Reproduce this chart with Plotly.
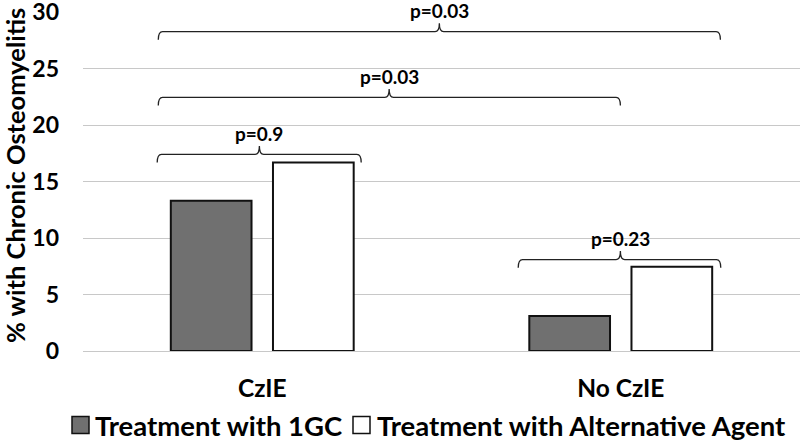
import plotly.graph_objects as go

categories = ["CzIE", "No CzIE"]
series_names = ["Treatment with 1GC", "Treatment with Alternative Agent"]
series_colors = ["#707070", "#ffffff"]
values_1gc = [13.3, 3.1]
values_alt = [16.7, 7.45]

# significance brackets (x in category index units, y in % units)
br_left = [-0.29, -0.29, -0.293, 0.714]
br_right = [1.278, 0.999, 0.276, 1.279]
br_mid = [0.494, 0.354, -0.008, 0.999]
br_level = [28.28, 22.46, 17.41, 8.10]
br_labels = ["p=0.03", "p=0.03", "p=0.9", "p=0.23"]

y_ticks = [0, 5, 10, 15, 20, 25, 30]
y_title = "% with Chronic Osteomyelitis"

FONT = "Lato"
W, H = 800, 441
ML, MR, MT, MB = 83, 0, 12, 90
x_pos = list(range(len(categories)))

fig = go.Figure()
for vals, name, col in zip([values_1gc, values_alt], series_names, series_colors):
    fig.add_trace(go.Bar(x=x_pos, y=vals, name=name, showlegend=False,
                         marker=dict(color=col, line=dict(color="#111111", width=2))))

tip = 0.72
tick = 0.75
dx = 0.012
for l, r, m, yv, lab in zip(br_left, br_right, br_mid, br_level, br_labels):
    p = (f"M {l},{yv - tip} Q {l},{yv} {l + dx},{yv} "
         f"L {m - dx},{yv} Q {m},{yv} {m},{yv + tick} "
         f"Q {m},{yv} {m + dx},{yv} "
         f"L {r - dx},{yv} Q {r},{yv} {r},{yv - tip}")
    fig.add_shape(type="path", path=p, xref="x", yref="y",
                  line=dict(color="#222222", width=1.3))
    fig.add_annotation(x=m, y=yv + tick, xref="x", yref="y", text=f"<b>{lab}</b>",
                       showarrow=False, yanchor="bottom", yshift=-1,
                       font=dict(family=FONT, size=19, color="#000000"))

# pixel layout -> paper coords
pw = W - ML - MR
ph = H - MT - MB
def px_x(px):
    return (px - ML) / pw
def px_y(py):
    return (H - MB - py) / ph

# y-axis title
fig.add_annotation(xref="paper", yref="paper", x=px_x(15), y=px_y(176),
                   xanchor="center", yanchor="middle", showarrow=False, textangle=-90,
                   text=f"<b>{y_title}</b>",
                   font=dict(family=FONT, size=25.5, color="#000000"))

# manual legend
leg_sq_x = [72, 353]
leg_txt_x = [93, 375]
leg_cy = 425
sq = 17
for sx, tx, name, col in zip(leg_sq_x, leg_txt_x, series_names, series_colors):
    fig.add_shape(type="rect", xref="paper", yref="paper",
                  x0=px_x(sx), x1=px_x(sx + sq), y0=px_y(leg_cy + sq / 2), y1=px_y(leg_cy - sq / 2),
                  fillcolor=col, line=dict(color="#111111", width=1.5))
    fig.add_annotation(xref="paper", yref="paper", x=px_x(tx), y=px_y(leg_cy),
                       xanchor="left", yanchor="middle", showarrow=False,
                       text=f"<b>{name}</b>",
                       font=dict(family=FONT, size=27.5, color="#000000"))

fig.update_layout(
    width=W, height=H,
    margin=dict(l=ML, r=MR, t=MT, b=MB),
    plot_bgcolor="#ffffff", paper_bgcolor="#ffffff",
    barmode="group", bargap=0.43, bargroupgap=0.21,
    font=dict(family=FONT, color="#000000"),
    showlegend=False,
    xaxis=dict(range=[-0.5, 1.5], tickvals=x_pos,
               ticktext=[f"<b>{c}</b>" for c in categories],
               tickfont=dict(family=FONT, size=24.5, color="#000000"),
               showgrid=False, zeroline=False, showline=False, ticks="",
               ticklabelstandoff=20, automargin=False),
    yaxis=dict(range=[0, 30.02], tickvals=y_ticks,
               ticktext=[f"<b>{t}</b>" for t in y_ticks],
               tickfont=dict(family=FONT, size=23, color="#000000"),
               showgrid=True, gridcolor="#c8c8c8", gridwidth=1,
               zeroline=True, zerolinecolor="#c8c8c8", zerolinewidth=1,
               showline=False, ticks="", ticklabelstandoff=23, automargin=False,
               ticklabeloverflow="allow"),
)

fig.write_html("out.html", config={"displayModeBar": False},
               post_script="document.body.style.margin='0px';")
